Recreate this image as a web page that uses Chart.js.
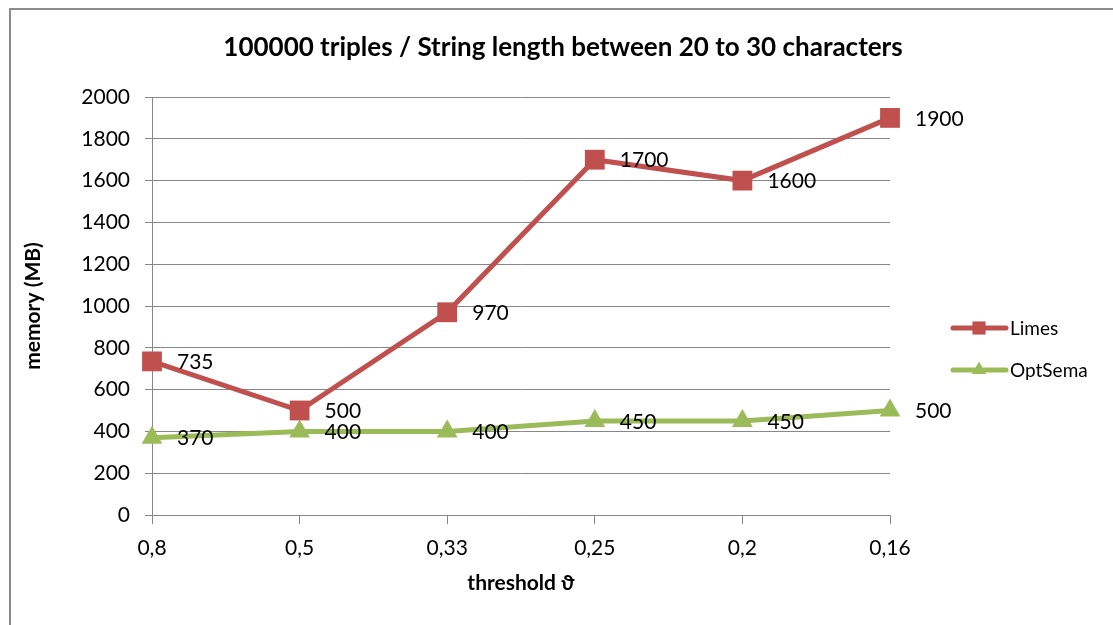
<!DOCTYPE html>
<html>
<head>
<meta charset="utf-8">
<script src="https://cdn.jsdelivr.net/npm/chart.js@4"></script>
<style>
  html, body { margin: 0; padding: 0; background: #fff; }
  #wrap { width: 1113px; height: 625px; }
</style>
</head>
<body>
<div id="wrap"><canvas id="lineChart" width="1113" height="625"></canvas></div>
<script>
var thresholds = ['0,8', '0,5', '0,33', '0,25', '0,2', '0,16'];
var limesMemory = [735, 500, 970, 1700, 1600, 1900];
var optSemaMemory = [370, 400, 400, 450, 450, 500];

var chartTitle = '100000 triples / String length between 20 to 30 characters';
var xTitle = 'threshold \u03D1';
var yTitle = 'memory (MB)';

var FONT = 'Lato, "Noto Sans", sans-serif';
var RED = '#C0504D';
var GREEN = '#9BBB59';
var GRID = '#878787';

// frame, titles, value labels and legend
var decorations = {
    id: 'decorations',
    beforeDraw: function (chart) {
        var ctx = chart.ctx;
        ctx.save();
        ctx.fillStyle = '#fff';
        ctx.fillRect(0, 0, chart.width, chart.height);
        ctx.strokeStyle = '#8c8c8c';
        ctx.lineWidth = 2;
        ctx.strokeRect(10, 9, chart.width + 20, chart.height + 20);
        ctx.restore();
    },
    afterDatasetsDraw: function (chart) {
        var ctx = chart.ctx;
        var area = chart.chartArea;
        ctx.save();

        // title
        ctx.fillStyle = '#000';
        ctx.font = 'bold 26px ' + FONT;
        ctx.textAlign = 'center';
        ctx.textBaseline = 'middle';
        ctx.fillText(chartTitle, 563, 48);

        // axis titles
        ctx.font = 'bold 21px ' + FONT;
        ctx.fillText(xTitle, (area.left + area.right) / 2, 583);
        ctx.save();
        ctx.translate(33, (area.top + area.bottom) / 2);
        ctx.rotate(-Math.PI / 2);
        ctx.fillText(yTitle, 0, 0);
        ctx.restore();

        // value labels
        ctx.font = '21px ' + FONT;
        ctx.textAlign = 'left';
        chart.data.datasets.forEach(function (ds, i) {
            var meta = chart.getDatasetMeta(i);
            meta.data.forEach(function (pt, j) {
                ctx.fillText(String(ds.data[j]), pt.x + 25, pt.y + 1);
            });
        });

        // legend
        var items = [
            { label: 'Limes', color: RED, style: 'rect', radius: 9, y: 328 },
            { label: 'OptSema', color: GREEN, style: 'triangle', radius: 8, y: 370 }
        ];
        ctx.font = '19px ' + FONT;
        items.forEach(function (it) {
            ctx.strokeStyle = it.color;
            ctx.lineWidth = 5;
            ctx.lineCap = 'round';
            ctx.beginPath();
            ctx.moveTo(953, it.y);
            ctx.lineTo(1006, it.y);
            ctx.stroke();
            ctx.fillStyle = it.color;
            Chart.helpers.drawPoint(ctx, { pointStyle: it.style, radius: it.radius, borderWidth: 0 }, 979, it.y);
            ctx.fill();
            ctx.fillStyle = '#000';
            ctx.fillText(it.label, 1010, it.y + 1);
        });
        ctx.restore();
    }
};

var lineData = {
    labels: thresholds,
    datasets: [
        {
            label: 'Limes',
            data: limesMemory,
            borderColor: RED,
            backgroundColor: RED,
            borderWidth: 5,
            pointStyle: 'rect',
            pointRadius: 14,
            pointBorderWidth: 0,
            tension: 0
        },
        {
            label: 'OptSema',
            data: optSemaMemory,
            borderColor: GREEN,
            backgroundColor: GREEN,
            borderWidth: 5,
            pointStyle: 'triangle',
            pointRadius: 12,
            pointBorderWidth: 0,
            tension: 0
        }
    ]
};

var lineOptions = {
    responsive: false,
    animation: false,
    layout: { padding: { left: 10, top: 97, right: 223, bottom: 0 } },
    plugins: {
        legend: { display: false },
        title: { display: false },
        tooltip: { enabled: false }
    },
    scales: {
        x: {
            offset: false,
            grid: { display: true, drawOnChartArea: false, drawTicks: true, tickLength: 9, color: GRID },
            border: { color: GRID, width: 1 },
            ticks: { color: '#000', font: { family: FONT, size: 21 }, padding: 12, maxRotation: 0 },
            afterFit: function (scale) { scale.height = 110; }
        },
        y: {
            min: 0,
            max: 2000,
            grid: { color: GRID, tickLength: 7 },
            border: { color: GRID, width: 1 },
            ticks: {
                stepSize: 200, color: '#000', font: { family: FONT, size: 21 }, padding: 15,
                callback: function (value) { return String(value); }
            },
            afterFit: function (scale) { scale.width = 142; }
        }
    }
};

var ctx = document.getElementById('lineChart').getContext('2d');
new Chart(ctx, { type: 'line', data: lineData, options: lineOptions, plugins: [decorations] });
</script>
</body>
</html>
